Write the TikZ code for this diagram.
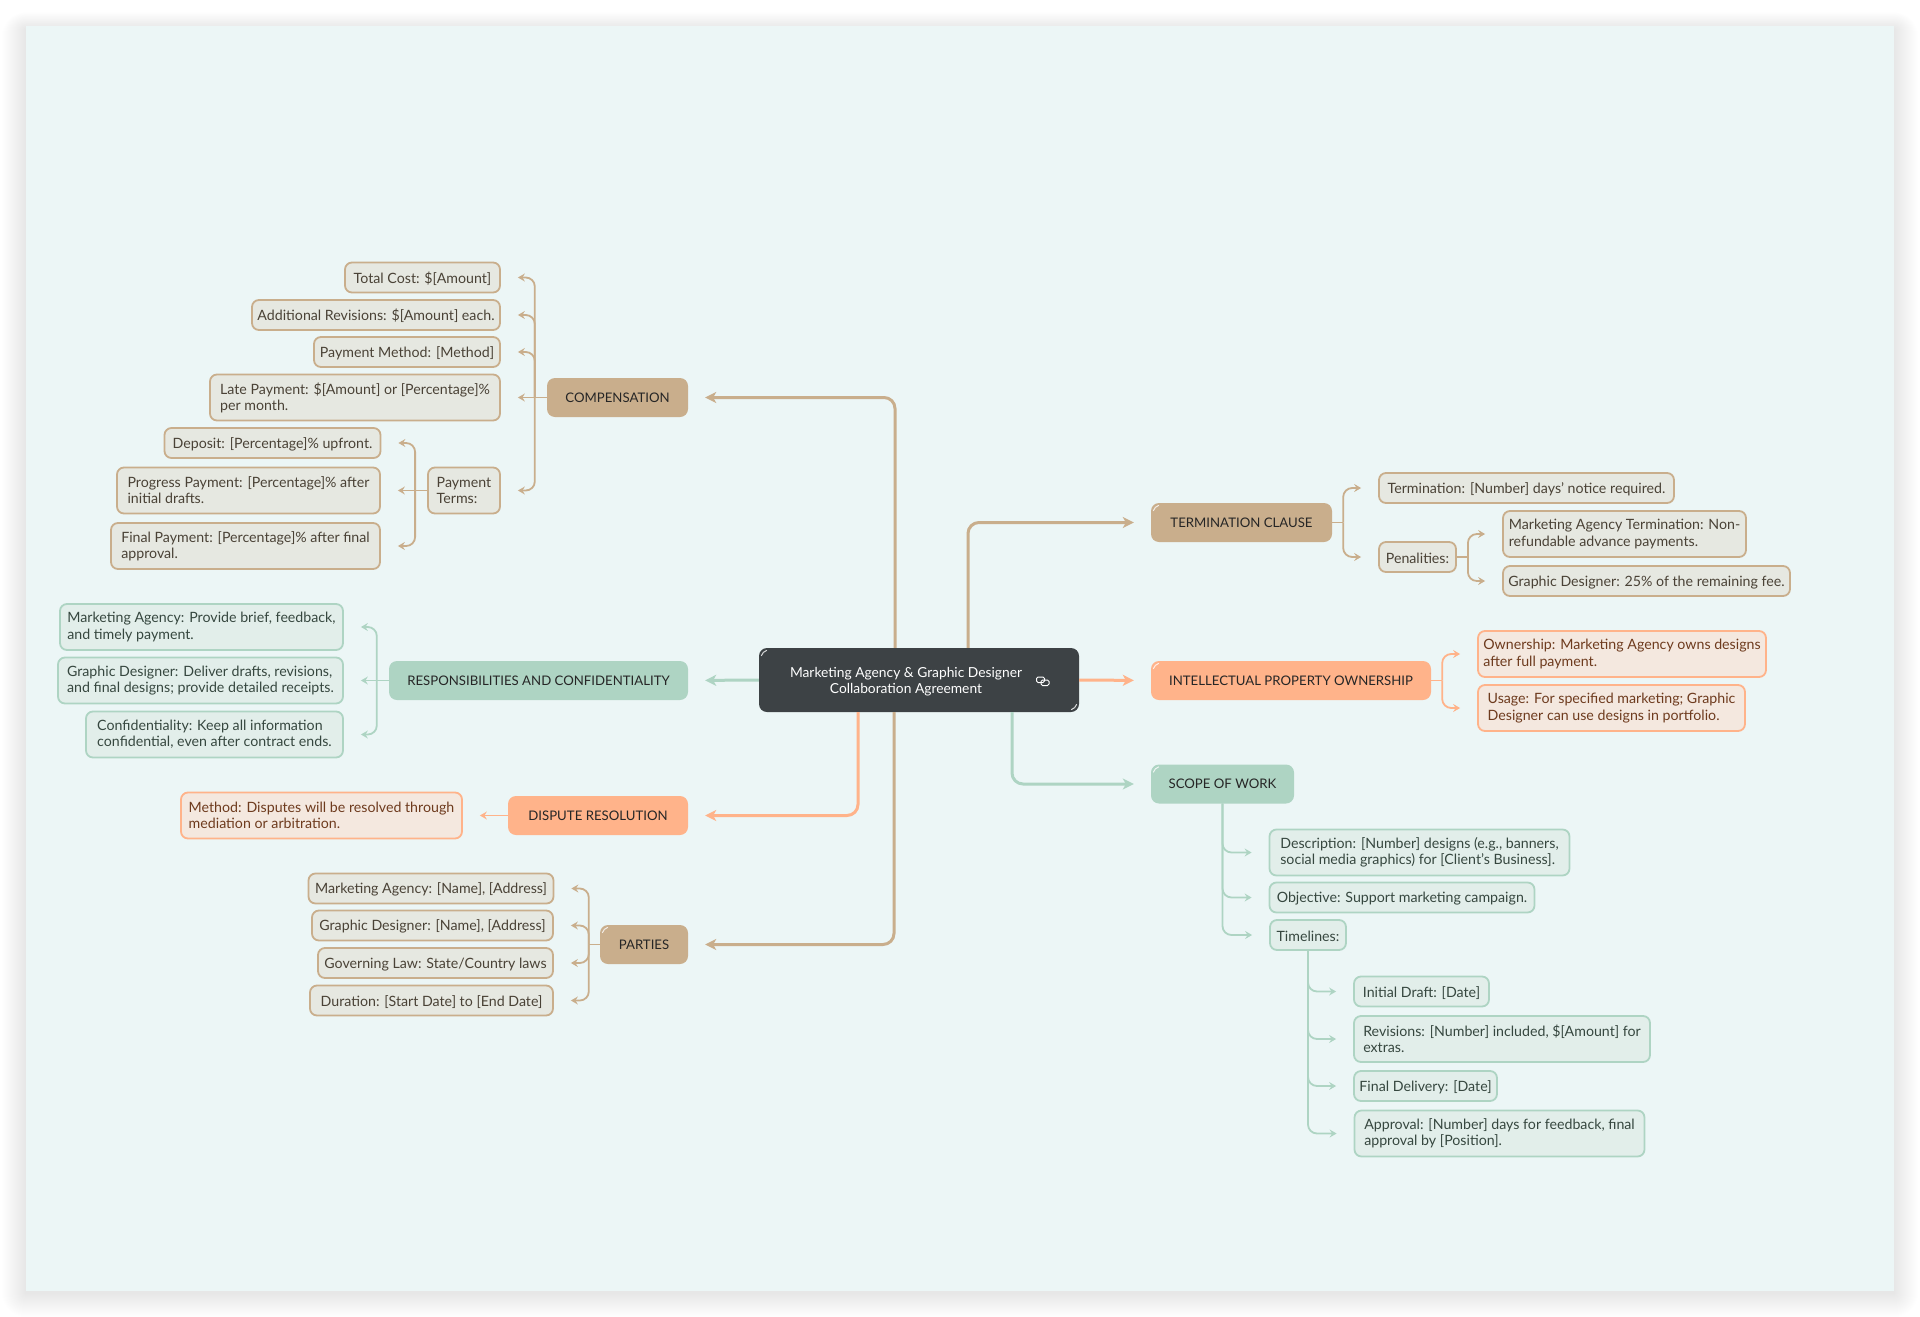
\documentclass[tikz,border=0pt]{standalone}
\usepackage{fontspec}
\setmainfont{Lato}
\usetikzlibrary{arrows.meta}
\definecolor{pagebg}{HTML}{ECF6F6}
\definecolor{darkbox}{HTML}{3D4245}
\definecolor{tanbox}{HTML}{C9AE8C}
\definecolor{tanleaffill}{HTML}{E6E8E1}
\definecolor{tanink}{HTML}{4A4236}
\definecolor{orangebox}{HTML}{FFB38A}
\definecolor{orangeleaffill}{HTML}{F4E8DF}
\definecolor{orangeink}{HTML}{6E3B1E}
\definecolor{greenbox}{HTML}{AED4C3}
\definecolor{greenleaffill}{HTML}{E2EEEA}
\definecolor{greenink}{HTML}{36473F}
\tikzset{
  topic/.style={rounded corners=8pt,inner sep=0pt,text=black!85,font=\fontsize{13.2}{16}\selectfont},
  leaf/.style={rounded corners=7pt,inner sep=0pt,line width=1.8pt,align=left,font=\fontsize{14.2}{16.2}\selectfont,
    execute at begin node={\rule{0pt}{13.5pt}}},
  twolines/.style={execute at begin node={\rule{0pt}{15.5pt}}},
  tantopic/.style={topic,fill=tanbox},
  orangetopic/.style={topic,fill=orangebox},
  greentopic/.style={topic,fill=greenbox},
  tanleaf/.style={leaf,draw=tanbox,fill=tanleaffill,text=tanink},
  orangeleaf/.style={leaf,draw=orangebox,fill=orangeleaffill,text=orangeink},
  greenleaf/.style={leaf,draw=greenbox,fill=greenleaffill,text=greenink},
  mainlink/.style={line width=3pt,rounded corners=11pt,shorten >=17pt,-{Stealth[length=11pt,width=11pt,inset=3pt]}},
  sublink/.style={line width=1.8pt,rounded corners=9pt,shorten >=17pt,-{Stealth[length=7pt,width=8pt,inset=2.5pt]}},
  stublink/.style={line width=1.8pt},
}
\begin{document}
\begin{tikzpicture}[x=1pt,y=-1pt]
\useasboundingbox (0,0) rectangle (1920,1317);
% page with soft shadow
\fill[white] (0,0) rectangle (1920,1317);
\foreach \d in {1,2,...,24}
  \fill[black,opacity=0.0055,rounded corners=\d pt] (26-\d,26-0.7*\d+3) rectangle (1894+\d,1291+\d+2);
\fill[pagebg] (26,26) rectangle (1894,1291);

% boxes
\node[fill=darkbox,rounded corners=8pt,minimum width=320,minimum height=64] (agreement) at (919,680) {};
\node[text=white,align=center,font=\fontsize{13.8}{16.3}\selectfont] (agreementtitle) at (906,682) {Marketing Agency \& Graphic Designer\\Collaboration Agreement};

\node[tantopic,minimum width=141,minimum height=39] (compensation) at (617.5,397.5) {COMPENSATION};
\node[greentopic,minimum width=299,minimum height=39] (responsibilities) at (538.5,680.5) {RESPONSIBILITIES AND CONFIDENTIALITY};
\node[orangetopic,minimum width=180,minimum height=39] (dispute) at (598,815.5) {DISPUTE RESOLUTION};
\node[tantopic,minimum width=88,minimum height=39] (parties) at (644,944.5) {PARTIES};
\node[tantopic,minimum width=181,minimum height=39] (termination) at (1241.5,522.5) {TERMINATION CLAUSE};
\node[orangetopic,minimum width=280,minimum height=39] (property) at (1291,680.5) {INTELLECTUAL PROPERTY OWNERSHIP};
\node[greentopic,minimum width=143,minimum height=39] (scope) at (1222.5,784) {SCOPE OF WORK};

\node[tanleaf,minimum width=155,minimum height=30] (totalcost) at (422.5,277.5) {Total Cost: \$[Amount]};
\node[tanleaf,minimum width=248,minimum height=30] (revisionfee) at (376,315) {Additional Revisions: \$[Amount] each.};
\node[tanleaf,minimum width=186,minimum height=30] (method) at (407,352) {Payment Method: [Method]};
\node[tanleaf,twolines,minimum width=290,minimum height=46] (latefee) at (355,397.5) {Late Payment: \$[Amount] or [Percentage]\%\\per month.};
\node[tanleaf,twolines,minimum width=72,minimum height=46] (terms) at (464,490.5) {Payment\\Terms:};
\node[tanleaf,minimum width=216,minimum height=30] (deposit) at (272.5,443) {Deposit: [Percentage]\% upfront.};
\node[tanleaf,twolines,minimum width=263,minimum height=46] (progress) at (248.5,490.5) {Progress Payment: [Percentage]\% after\\initial drafts.};
\node[tanleaf,twolines,minimum width=269,minimum height=46] (finalpay) at (245.5,546) {Final Payment: [Percentage]\% after final\\approval.};

\node[greenleaf,twolines,minimum width=283,minimum height=46] (brief) at (201.5,627) {Marketing Agency: Provide brief, feedback,\\and timely payment.};
\node[greenleaf,twolines,minimum width=285,minimum height=46] (drafts) at (200.5,680.5) {Graphic Designer: Deliver drafts, revisions,\\and final designs; provide detailed receipts.};
\node[greenleaf,twolines,minimum width=257,minimum height=46] (secrecy) at (214.5,734.5) {Confidentiality: Keep all information\\confidential, even after contract ends.};

\node[orangeleaf,twolines,minimum width=281,minimum height=46] (arbitration) at (321.5,815.5) {Method: Disputes will be resolved through\\mediation or arbitration.};

\node[tanleaf,minimum width=245,minimum height=30] (agencyname) at (431,888.5) {Marketing Agency: [Name], [Address]};
\node[tanleaf,minimum width=241,minimum height=30] (designername) at (432.5,925.5) {Graphic Designer: [Name], [Address]};
\node[tanleaf,minimum width=235,minimum height=30] (law) at (435.5,963) {Governing Law: State/Country laws};
\node[tanleaf,minimum width=243,minimum height=30] (duration) at (431.5,1000.5) {Duration: [Start Date] to [End Date]};

\node[tanleaf,minimum width=295,minimum height=30] (notice) at (1526.5,488) {Termination: [Number] days' notice required.};
\node[tanleaf,minimum width=77,minimum height=30] (penalties) at (1417.5,557) {Penalities:};
\node[tanleaf,twolines,minimum width=243,minimum height=46] (agencypenalty) at (1624.5,534) {Marketing Agency Termination: Non-\\refundable advance payments.};
\node[tanleaf,minimum width=287,minimum height=30] (designerpenalty) at (1646.5,581) {Graphic Designer: 25\% of the remaining fee.};

\node[orangeleaf,twolines,minimum width=288,minimum height=46] (ownership) at (1622,654) {Ownership: Marketing Agency owns designs\\after full payment.};
\node[orangeleaf,twolines,minimum width=267,minimum height=46] (usage) at (1611.5,708) {Usage: For specified marketing; Graphic\\Designer can use designs in portfolio.};

\node[greenleaf,twolines,minimum width=300,minimum height=46] (description) at (1419.5,852.5) {Description: [Number] designs (e.g., banners,\\social media graphics) for [Client's Business].};
\node[greenleaf,minimum width=265,minimum height=30] (objective) at (1402,897.5) {Objective: Support marketing campaign.};
\node[greenleaf,minimum width=76,minimum height=30] (timelines) at (1308,935) {Timelines:};
\node[greenleaf,minimum width=135,minimum height=30] (firstdraft) at (1421.5,991.5) {Initial Draft: [Date]};
\node[greenleaf,twolines,minimum width=296,minimum height=46] (revisions) at (1502,1039) {Revisions: [Number] included, \$[Amount] for\\extras.};
\node[greenleaf,minimum width=143,minimum height=30] (delivery) at (1425.5,1086) {Final Delivery: [Date]};
\node[greenleaf,twolines,minimum width=290,minimum height=46] (approval) at (1499.5,1133.5) {Approval: [Number] days for feedback, final\\approval by [Position].};

% link icon
\draw[white,line width=1pt,rounded corners=1.5pt] (1036.5,677) rectangle (1044.5,682.5);
\draw[white,line width=1pt,rounded corners=1.5pt] (1041,680) rectangle (1049,685.5);

% links from the centre
\draw[mainlink,tanbox] ([xshift=-24pt]agreement.north) |- (compensation.east);
\draw[mainlink,greenbox] (agreement.west) -- (responsibilities.east);
\draw[mainlink,orangebox] ([xshift=-61pt]agreement.south) |- (dispute.east);
\draw[mainlink,tanbox] ([xshift=-25pt]agreement.south) |- (parties.east);
\draw[mainlink,tanbox] ([xshift=49pt]agreement.north) |- (termination.west);
\draw[mainlink,orangebox] (agreement.east) -- (property.west);
\draw[mainlink,greenbox] ([xshift=93pt]agreement.south) |- (scope.west);

% links to the leaves
\foreach \leaf in {totalcost,revisionfee,method,terms}
  \draw[sublink,tanbox] (compensation.west) ++(-12,0) |- (\leaf.east);
\draw[sublink,tanbox] (compensation.west) -- (latefee.east);
\foreach \leaf in {deposit,finalpay}
  \draw[sublink,tanbox] (terms.west) ++(-12,0) |- (\leaf.east);
\draw[sublink,tanbox] (terms.west) -- (progress.east);
\foreach \leaf in {brief,secrecy}
  \draw[sublink,greenbox] (responsibilities.west) ++(-12,0) |- (\leaf.east);
\draw[sublink,greenbox] (responsibilities.west) -- (drafts.east);
\draw[sublink,orangebox] (dispute.west) -- (arbitration.east);
\draw[stublink,tanbox] (parties.west) -- ++(-11,0);
\foreach \leaf in {agencyname,designername,law,duration}
  \draw[sublink,tanbox] (parties.west) ++(-11,0) |- (\leaf.east);
\draw[stublink,tanbox] (termination.east) -- ++(11,0);
\foreach \leaf in {notice,penalties}
  \draw[sublink,tanbox] (termination.east) ++(11,0) |- (\leaf.west);
\draw[stublink,tanbox] (penalties.east) -- ++(11,0);
\foreach \leaf in {agencypenalty,designerpenalty}
  \draw[sublink,tanbox] (penalties.east) ++(11,0) |- (\leaf.west);
\draw[stublink,orangebox] (property.east) -- ++(11,0);
\foreach \leaf in {ownership,usage}
  \draw[sublink,orangebox] (property.east) ++(11,0) |- (\leaf.west);
\foreach \leaf in {description,objective,timelines}
  \draw[sublink,greenbox] (scope.south) |- (\leaf.west);
\foreach \leaf in {firstdraft,revisions,delivery,approval}
  \draw[sublink,greenbox] (timelines.south) |- (\leaf.west);

% gloss on the corners
\foreach \n in {agreement,termination,property,scope,parties}
  \draw[white,opacity=0.8,line width=1pt] ([xshift=2.5pt,yshift=-8pt]\n.north west) to[bend left=25] ([xshift=8pt,yshift=-2.5pt]\n.north west);
\draw[white,opacity=0.8,line width=1pt] ([xshift=-2.5pt,yshift=8pt]agreement.south east) to[bend left=25] ([xshift=-8pt,yshift=2.5pt]agreement.south east);
\end{tikzpicture}
\end{document}
